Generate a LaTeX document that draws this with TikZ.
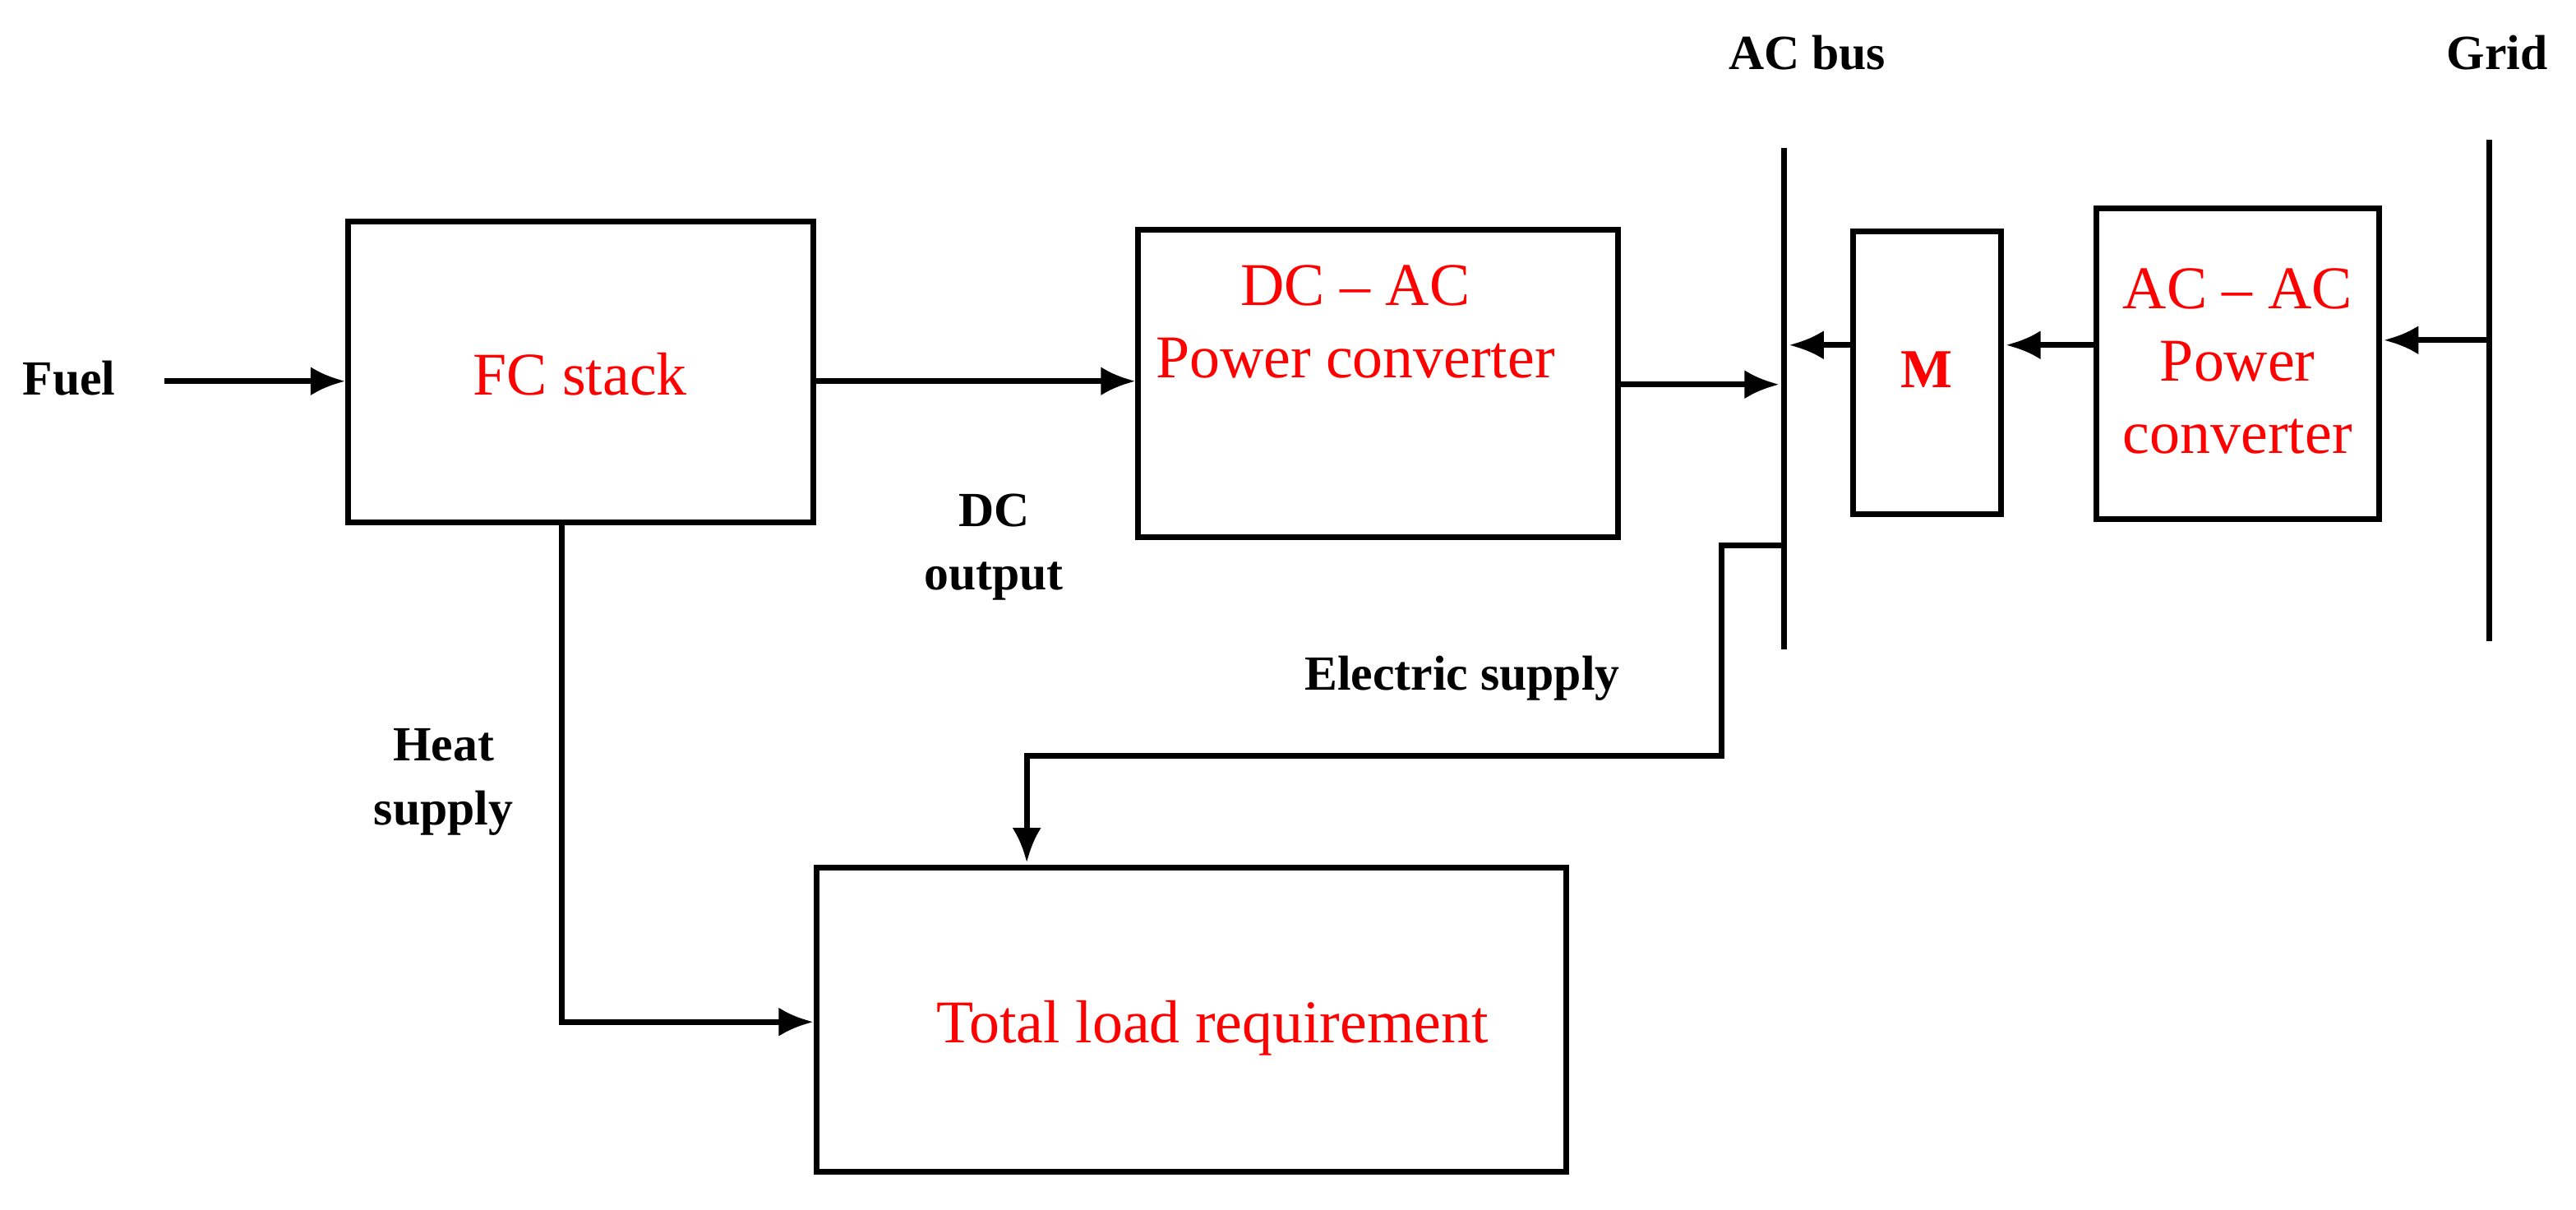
\documentclass[tikz,border=0pt]{standalone}
\usepackage{fontspec}
\setmainfont{Liberation Serif}
\usetikzlibrary{arrows.meta}
\begin{document}
\begin{tikzpicture}[x=0.01cm,y=-0.01cm,
  box/.style={draw,line width=1pt,inner sep=0pt},
  rt/.style={text=red,font=\fontsize{10.5}{12.5}\selectfont,align=center},
  lb/.style={font=\bfseries\fontsize{8.5}{11}\selectfont,align=center},
  ar/.style={line width=1pt,-{Latex[length=6pt,width=5pt]}},
  ln/.style={line width=1pt}]
\useasboundingbox (0,0) rectangle (1568,736);
\node[box,minimum width=2.83cm,minimum height=1.83cm] (fcb) at (353.5,226.5) {};
\node[rt] (fc) at (353,228) {FC stack};
\node[box,minimum width=2.92cm,minimum height=1.87cm] (dcacb) at (839,233.5) {};
\node[rt] (dcac) at (825,196) {DC -- AC\\Power converter};
\node[box,minimum width=0.90cm,minimum height=1.72cm] (mb) at (1173,227) {};
\node[text=red,font=\bfseries\fontsize{9.5}{12}\selectfont] (m) at (1173,225) {M};
\node[box,minimum width=1.72cm,minimum height=1.89cm] (acacb) at (1362,221.5) {};
\node[rt] (acac) at (1362,220) {AC -- AC\\Power\\converter};
\node[box,minimum width=4.56cm,minimum height=1.85cm] (loadb) at (725,620.5) {};
\node[rt] (load) at (738,626) {Total load requirement};
\coordinate (busT) at (1086,90); \coordinate (busB) at (1086,395);
\draw[ln] (busT) -- (busB);
\coordinate (gridT) at (1515,85); \coordinate (gridB) at (1515,390);
\draw[ln] (gridT) -- (gridB);
\node[lb] (fuel) at (42,230) {Fuel};
\coordinate (fuelE) at (100,232);
\node[lb] (acbus) at (1100,32) {AC bus};
\node[lb] (grid) at (1520,32) {Grid};
\node[lb] (dco) at (605,333) {DC\\output};
\node[lb] (es) at (890,413) {Electric supply};
\node[lb] (hs) at (270,476) {Heat\\supply};
\draw[ar] (fuelE) -- (fcb.west |- fuelE);
\draw[ar] (fcb.east |- fuelE) -- (dcacb.west |- fuelE);
\draw[ar] (dcacb.east |- 0,234) -- (1083,234);
\draw[ar] (mb.west |- 0,210) -- (1089,210);
\draw[ar] (acacb.west |- 0,210) -- (1221,210);
\draw[ar] (1515,207) -- (1451,207);
\draw[ar] (1086,332) -- (1048,332) -- (1048,460) -- (625,460) -- (625,525);
\draw[ar] (fcb.south -| 342,0) -- (342,622) -- (loadb.west |- 0,622);
\end{tikzpicture}
\end{document}
